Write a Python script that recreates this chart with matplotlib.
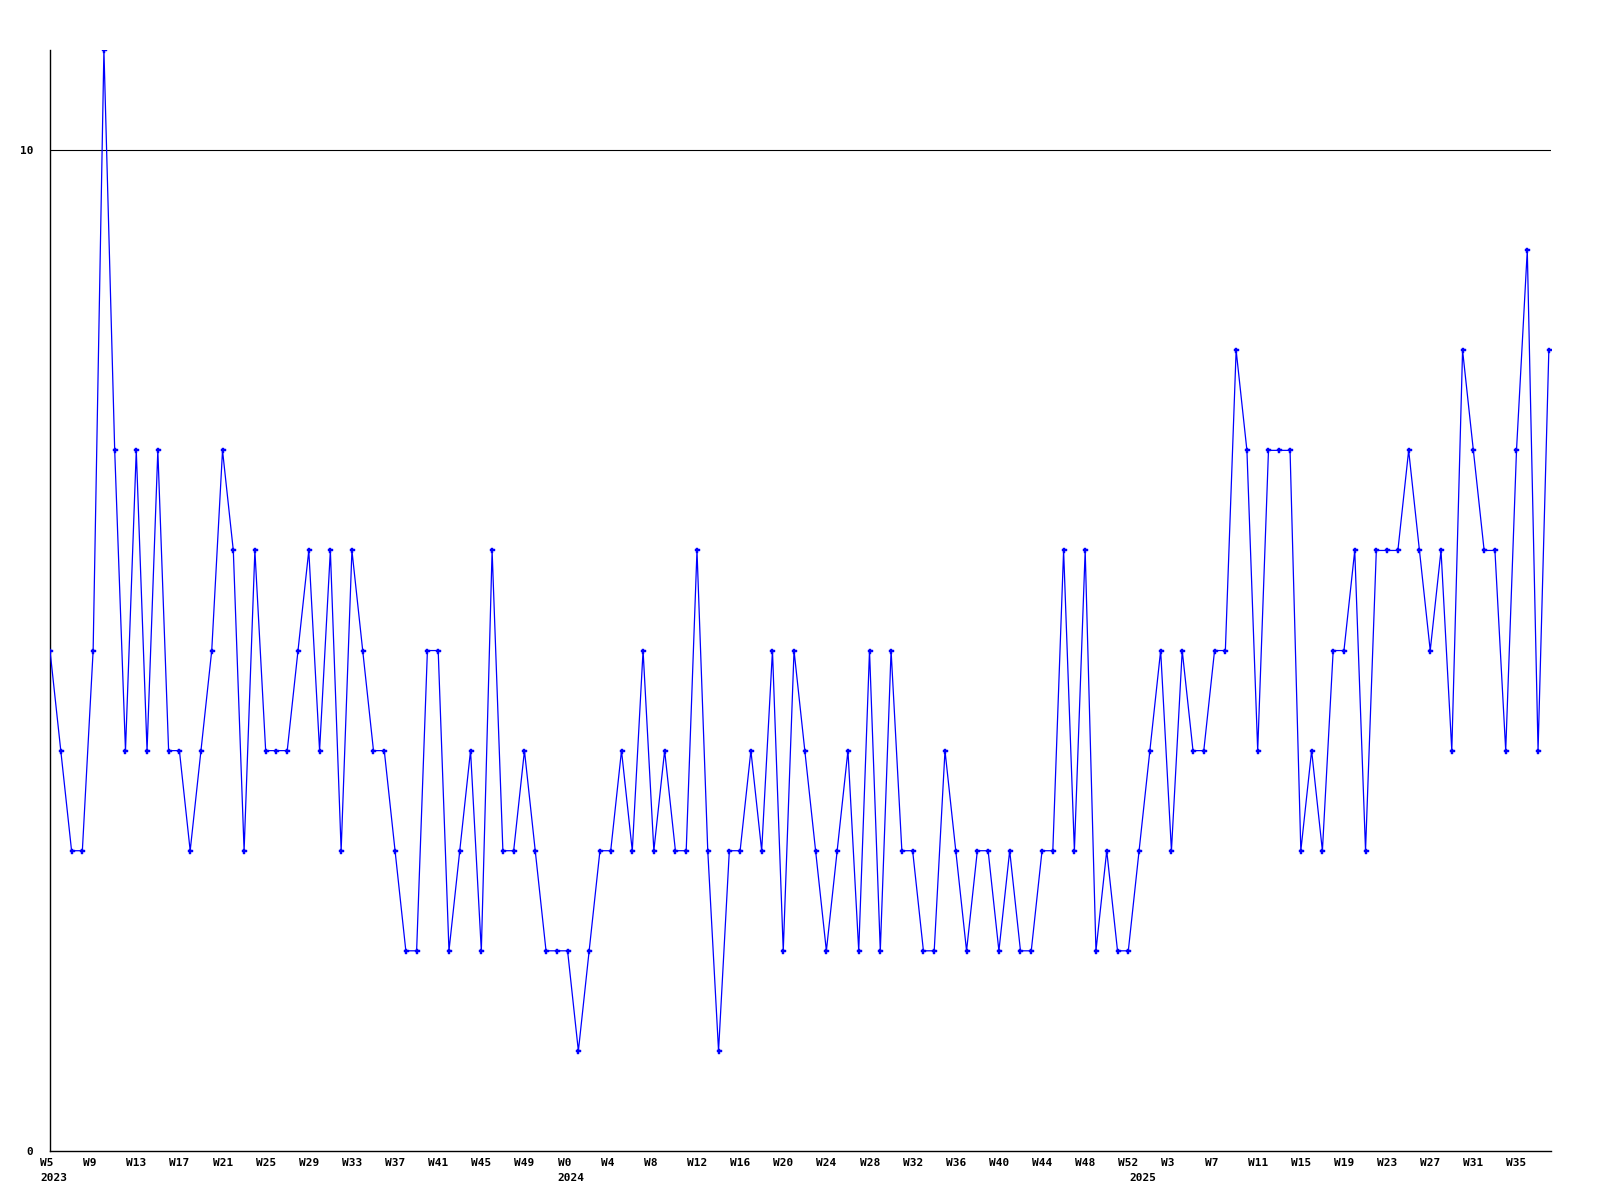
import matplotlib
matplotlib.use("Agg")
import matplotlib.pyplot as plt
import matplotlib.transforms as mtransforms

# Weekly counts, 2023 W5 .. 2025 W38
values = [
    5, 4, 3, 3, 5, 11, 7, 4, 7, 4, 7, 4, 4, 3, 4, 5, 7, 6, 3, 6, 4, 4, 4, 5,
    6, 4, 6, 3, 6, 5, 4, 4, 3, 2, 2, 5, 5, 2, 3, 4, 2, 6, 3, 3, 4, 3, 2,
    2, 2, 1, 2, 3, 3, 4, 3, 5, 3, 4, 3, 3, 6, 3, 1, 3, 3, 4, 3, 5, 2, 5,
    4, 3, 2, 3, 4, 2, 5, 2, 5, 3, 3, 2, 2, 4, 3, 2, 3, 3, 2, 3, 2, 2, 3,
    3, 6, 3, 6, 2, 3, 2, 2, 3, 4, 5, 3, 5, 4, 4, 5, 5, 8, 7, 4, 7, 7, 7,
    3, 4, 3, 5, 5, 6, 3, 6, 6, 6, 7, 6, 5, 6, 4, 8, 7, 6, 6, 4, 7, 9, 4, 8,
]

# tick labels every 4 weeks
tick_labels = [
    "W5", "W9", "W13", "W17", "W21", "W25", "W29", "W33", "W37", "W41", "W45", "W49",
    "W0", "W4", "W8", "W12", "W16", "W20", "W24", "W28", "W32", "W36", "W40", "W44", "W48", "W52",
    "W3", "W7", "W11", "W15", "W19", "W23", "W27", "W31", "W35",
]
tick_positions = list(range(0, 4 * len(tick_labels), 4))

year_labels = ["2023", "2024", "2025"]
year_positions = [0, 48, 101]

y_ticks = [0, 10]

font = dict(family="DejaVu Sans Mono", weight="bold", size=8)

fig = plt.figure(figsize=(16, 12), dpi=100)
ax = fig.add_axes([50 / 1600, 1 - 1151 / 1200, 1501 / 1600, 1101 / 1200])

x = list(range(len(values)))
ax.plot(x, values, color="#0000ff", lw=0.9, marker="P", ms=3.6,
        mec="#0000ff", mfc="#0000ff", mew=0.3, clip_on=True, zorder=3)

ax.set_xlim(0, len(values) - 1 + 0.2)
ax.set_ylim(0, 11)

for s in ["top", "right"]:
    ax.spines[s].set_visible(False)
for s in ["left", "bottom"]:
    ax.spines[s].set_color("black")
    ax.spines[s].set_linewidth(1.0)

ax.axhline(10, color="black", lw=0.8, zorder=1)

ax.set_yticks(y_ticks)
ax.set_yticklabels([str(v) for v in y_ticks], **font)
ax.tick_params(axis="y", length=0, pad=12)

ax.set_xticks(tick_positions)
ax.set_xticklabels(tick_labels, **font, ha="left")
ax.tick_params(axis="x", length=0, pad=5)
offset = mtransforms.ScaledTranslation(-10 / 100, 0, fig.dpi_scale_trans)
for lab in ax.get_xticklabels():
    lab.set_transform(lab.get_transform() + offset)

ytrans = mtransforms.blended_transform_factory(ax.transData, ax.transAxes)
yoff = mtransforms.ScaledTranslation(-10 / 100, -22 / 100, fig.dpi_scale_trans)
for pos, lab in zip(year_positions, year_labels):
    ax.text(pos, 0, lab, transform=ytrans + yoff, ha="left", va="top", **font)

fig.savefig("out.png", dpi=100)
